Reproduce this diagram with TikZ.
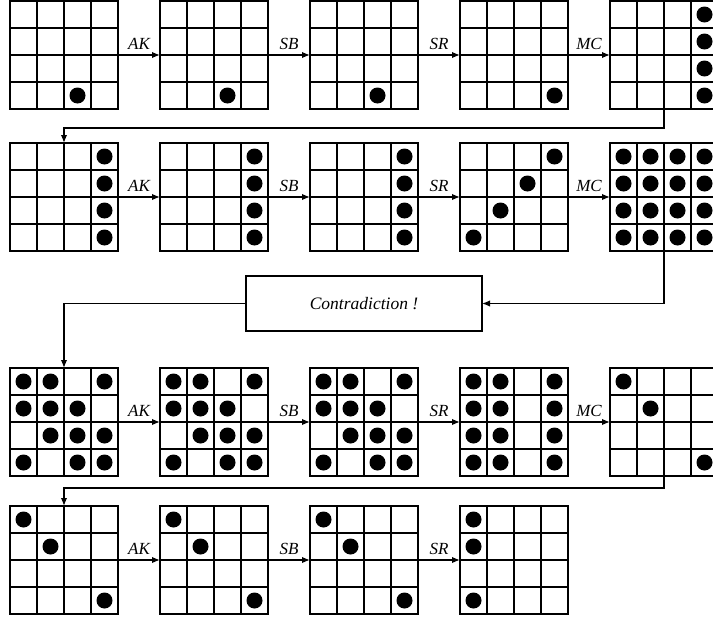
\documentclass[tikz,border=0pt]{standalone}
\usepackage{fontspec}
\setmainfont{Liberation Serif}
\usetikzlibrary{arrows.meta}
\tikzset{
  gridbox/.style={draw, line width=1.5pt, minimum width=108pt, minimum height=108pt, inner sep=0pt, outer sep=0pt},
  gridline/.style={line width=1.5pt},
  conn/.style={line width=1.5pt, -{Latex[length=8pt,width=6.5pt]}},
  lab/.style={above, inner sep=0pt, yshift=5pt, font=\fontsize{17}{19}\selectfont\itshape},
  contrabox/.style={draw, line width=1.5pt, minimum width=236pt, minimum height=55pt, inner sep=0pt, outer sep=0pt, font=\fontsize{17.5}{20}\selectfont\itshape}
}
\newcommand\sgrid[4]{%
  \node[gridbox] (#1) at (#2+54,#3+54) {};
  \foreach \i in {1,2,3} {
    \draw[gridline] (#2+27*\i,#3) -- ++(0,108);
    \draw[gridline] (#2,#3+27*\i) -- ++(108,0);
  }
  \foreach \c/\r in {#4} {
    \fill (#2+27*\c+13.5,#3+27*\r+13.5) circle[radius=8pt];
  }
}
\begin{document}
\begin{tikzpicture}[x=1pt,y=-1pt]
\clip (0,0) rectangle (713,621);
\useasboundingbox (0,0) rectangle (713,621);
% row 1
\sgrid{g11}{10}{1}{2/3}
\sgrid{g12}{160}{1}{2/3}
\sgrid{g13}{310}{1}{2/3}
\sgrid{g14}{460}{1}{3/3}
\sgrid{g15}{610}{1}{3/0,3/1,3/2,3/3}
% row 2
\sgrid{g21}{10}{143}{3/0,3/1,3/2,3/3}
\sgrid{g22}{160}{143}{3/0,3/1,3/2,3/3}
\sgrid{g23}{310}{143}{3/0,3/1,3/2,3/3}
\sgrid{g24}{460}{143}{3/0,2/1,1/2,0/3}
\sgrid{g25}{610}{143}{0/0,1/0,2/0,3/0,0/1,1/1,2/1,3/1,0/2,1/2,2/2,3/2,0/3,1/3,2/3,3/3}
% row 3
\sgrid{g31}{10}{368}{0/0,1/0,3/0,0/1,1/1,2/1,1/2,2/2,3/2,0/3,2/3,3/3}
\sgrid{g32}{160}{368}{0/0,1/0,3/0,0/1,1/1,2/1,1/2,2/2,3/2,0/3,2/3,3/3}
\sgrid{g33}{310}{368}{0/0,1/0,3/0,0/1,1/1,2/1,1/2,2/2,3/2,0/3,2/3,3/3}
\sgrid{g34}{460}{368}{0/0,1/0,3/0,0/1,1/1,3/1,0/2,1/2,3/2,0/3,1/3,3/3}
\sgrid{g35}{610}{368}{0/0,1/1,3/3}
% row 4
\sgrid{g41}{10}{506}{0/0,1/1,3/3}
\sgrid{g42}{160}{506}{0/0,1/1,3/3}
\sgrid{g43}{310}{506}{0/0,1/1,3/3}
\sgrid{g44}{460}{506}{0/0,0/1,0/3}
% horizontal arrows
\foreach \r in {1,2,3} {
  \draw[conn] (g\r1.east) -- node[lab] {AK} (g\r2.west);
  \draw[conn] (g\r2.east) -- node[lab] {SB} (g\r3.west);
  \draw[conn] (g\r3.east) -- node[lab] {SR} (g\r4.west);
  \draw[conn] (g\r4.east) -- node[lab] {MC} (g\r5.west);
}
\draw[conn] (g41.east) -- node[lab] {AK} (g42.west);
\draw[conn] (g42.east) -- node[lab] {SB} (g43.west);
\draw[conn] (g43.east) -- node[lab] {SR} (g44.west);
% contradiction box
\node[contrabox] (contra) at (364,303.5) {Contradiction !};
% turn connectors
\coordinate (t1) at (664,128);
\coordinate (t3) at (664,488);
\draw[conn] (g15.south) -- (t1) -| (g21.north);
\draw[conn] (g25.south) |- (contra.east);
\draw[conn] (contra.west) -| (g31.north);
\draw[conn] (g35.south) -- (t3) -| (g41.north);
\end{tikzpicture}
\end{document}
